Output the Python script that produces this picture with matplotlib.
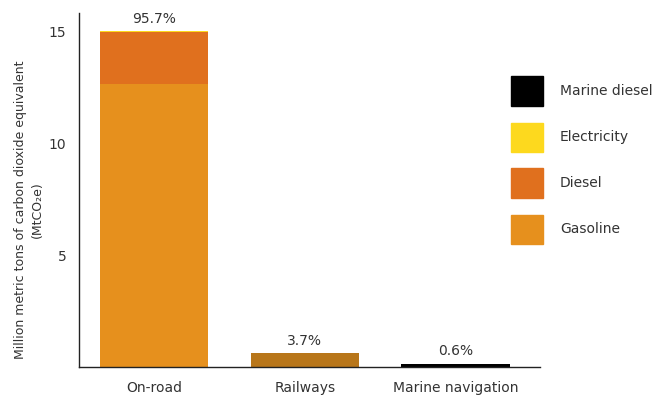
import matplotlib.pyplot as plt
from matplotlib.patches import Rectangle

plt.rcParams['font.family'] = ['DejaVu Sans']

# data (MtCO2e)
categories = ['On-road', 'Railways', 'Marine navigation']
gasoline = [12.65, 0.0, 0.0]
diesel = [2.3, 0.0, 0.0]
electricity = [0.05, 0.0, 0.0]
rail_diesel = [0.0, 0.62, 0.0]
marine_diesel = [0.0, 0.0, 0.15]
shares = ['95.7%', '3.7%', '0.6%']

legend_labels = ['Marine diesel', 'Electricity', 'Diesel', 'Gasoline']

c_gas = '#E6901D'
c_diesel = '#E0701E'
c_elec = '#FDD91E'
c_marine = '#000000'
c_rail = '#B8761A'
txt = '#333333'

fig = plt.figure(figsize=(6.57, 3.99), dpi=100)
ax = fig.add_axes([0.120, 0.080, 0.702, 0.887])
W, H = 657.0, 399.0

x = range(len(categories))
w = 0.72
ax.bar(x, gasoline, w, bottom=0, color=c_gas)
ax.bar(x, diesel, w, bottom=gasoline, color=c_diesel)
b2 = [g + d for g, d in zip(gasoline, diesel)]
ax.bar(x, electricity, w, bottom=b2, color=c_elec)
ax.bar(x, rail_diesel, w, bottom=0, color=c_rail)
ax.bar(x, marine_diesel, w, bottom=0, color=c_marine)

totals = [g + d + e + r + m for g, d, e, r, m in
          zip(gasoline, diesel, electricity, rail_diesel, marine_diesel)]
for i, (t, s) in enumerate(zip(totals, shares)):
    ax.annotate(s, (i, t), xytext=(0, 4), textcoords='offset points',
                ha='center', va='bottom', fontsize=10, color=txt)

ax.set_xlim(-0.5, 2.56)
ax.set_ylim(0, 15.8)
ax.set_yticks([5, 10, 15])
ax.set_xticks(list(x))
ax.set_xticklabels(categories)
ax.tick_params(length=0, labelsize=10, colors=txt)
ax.tick_params(axis='y', pad=9)
ax.tick_params(axis='x', pad=10)
for side in ['top', 'right']:
    ax.spines[side].set_visible(False)
for side in ['left', 'bottom']:
    ax.spines[side].set_color('#222222')
    ax.spines[side].set_linewidth(1.0)

# y label placed in figure pixels
fig.text(29 / W, 1 - 210 / H,
         'Million metric tons of carbon dioxide equivalent\n(MtCO₂e)',
         rotation=90, ha='center', va='center', multialignment='center',
         fontsize=9, color=txt, linespacing=1.45)

# legend drawn by hand
leg_colors = [c_marine, c_elec, c_diesel, c_gas]
for k, (lab, col) in enumerate(zip(legend_labels, leg_colors)):
    yc = 91 + k * 46
    fig.patches.append(Rectangle((511 / W, 1 - (yc + 14.5) / H), 32 / W, 29 / H,
                                 transform=fig.transFigure, color=col))
    fig.text(560 / W, 1 - yc / H, lab, fontsize=10, color=txt, va='center')

fig.savefig('out.png', dpi=100)
